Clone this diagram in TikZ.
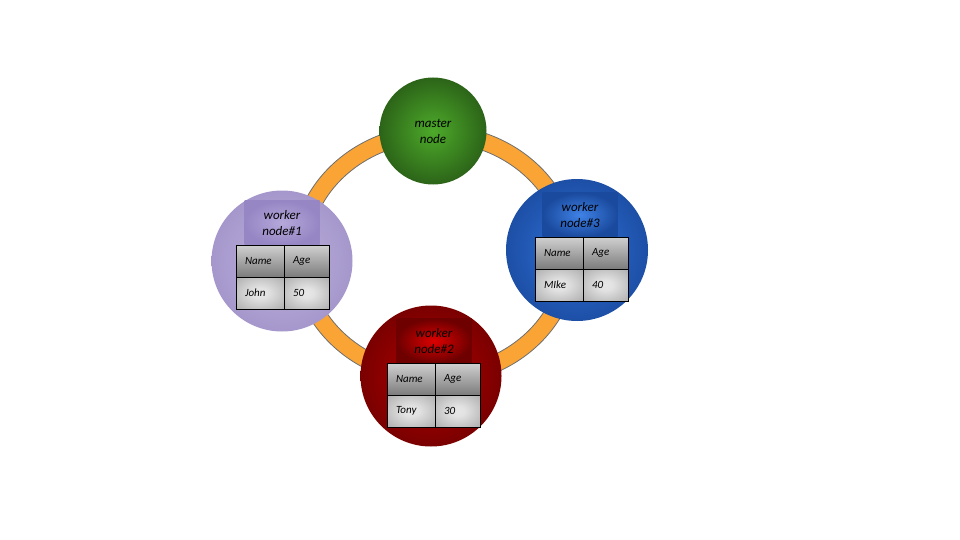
\documentclass[tikz,border=0pt]{standalone}
\usepackage{fontspec}
\setmainfont{Carlito}
\usepackage{xcolor}
\usetikzlibrary{positioning}

\definecolor{ringorange}{HTML}{F9A435}
\definecolor{ringedge}{HTML}{6E6E6E}
\definecolor{greenin}{HTML}{4DAA2A}
\definecolor{greenout}{HTML}{2C6418}
\definecolor{purpin}{HTML}{BDB2DD}
\definecolor{purpout}{HTML}{A597CB}
\definecolor{purpboxin}{HTML}{B5A8DA}
\definecolor{purpboxout}{HTML}{9686C4}
\definecolor{bluein}{HTML}{2F72D8}
\definecolor{blueout}{HTML}{1D4FA6}
\definecolor{blueboxin}{HTML}{3F82E6}
\definecolor{blueboxout}{HTML}{1A4A9E}
\definecolor{redin}{HTML}{B40000}
\definecolor{redout}{HTML}{7A0000}
\definecolor{redboxin}{HTML}{DD0000}
\definecolor{redboxout}{HTML}{6E0000}
\definecolor{cellhi}{HTML}{D0D0D0}
\definecolor{celllo}{HTML}{7C7C7C}
\definecolor{cellin}{HTML}{E6E6E6}
\definecolor{cellout}{HTML}{9A9A9A}

\pgfdeclareradialshading{cellglow}{\pgfpoint{0bp}{0bp}}{color(0bp)=(cellin); color(8bp)=(cellin!95!cellout); color(38bp)=(cellout!80!cellin); color(50bp)=(cellout)}

\begin{document}
\begin{tikzpicture}[x=1pt,y=-1pt,
  nodecircle/.style={circle, draw=none, inner sep=0pt, align=center,
    font=\itshape\fontsize{13}{16}\selectfont},
  titlebox/.style={rectangle, minimum width=75pt, minimum height=44pt,
    inner sep=0pt, align=center, font=\itshape\fontsize{13}{16}\selectfont},
  cell/.style={rectangle, draw=black, line width=0.8pt, outer sep=0pt,
    minimum height=32pt, inner xsep=9pt, inner ysep=0pt, align=left,
    font=\itshape\fontsize{11}{13}\selectfont},
  headcell/.style={cell, top color=cellhi, bottom color=celllo},
  datacell/.style={cell, shading=cellglow},
  firstcol/.style={text width=30pt},
  secondcol/.style={text width=27pt}]
\useasboundingbox (0,0) rectangle (960,540);

% ring
\draw[ringedge, line width=0.8pt, fill=ringorange, even odd rule]
  (435,255) ellipse [x radius=143, y radius=130]
  (435,255) ellipse [x radius=126, y radius=113];

% master
\node[nodecircle, minimum size=107pt, inner color=greenin, outer color=greenout] (master) at (433,131) {master\\node};

% worker 1
\node[nodecircle, minimum size=141pt, inner color=purpin, outer color=purpout] (worker1) at (282,261) {};
\node[titlebox, inner color=purpboxin, outer color=purpboxout, anchor=south] (w1title) at (282,245) {worker\\node\#1};
\node[headcell, firstcol, anchor=north west] (w1name) at (236,245) {Name};
\node[headcell, secondcol, right=0pt of w1name] (w1age) {Age};
\node[datacell, firstcol, below=0pt of w1name] (w1nameval) {John};
\node[datacell, secondcol, below=0pt of w1age] (w1ageval) {50};

% worker 3
\node[nodecircle, minimum size=142pt, inner color=bluein, outer color=blueout] (worker3) at (577,250) {};
\node[titlebox, inner color=blueboxin, outer color=blueboxout, anchor=south] (w3title) at (580,237) {worker\\node\#3};
\node[headcell, firstcol, anchor=north west] (w3name) at (535,237) {Name};
\node[headcell, secondcol, right=0pt of w3name] (w3age) {Age};
\node[datacell, firstcol, below=0pt of w3name] (w3nameval) {MIke};
\node[datacell, secondcol, below=0pt of w3age] (w3ageval) {40};

% worker 2
\node[nodecircle, minimum size=141pt, inner color=redin, outer color=redout] (worker2) at (431,376) {};
\node[titlebox, inner color=redboxin, outer color=redboxout, anchor=south] (w2title) at (434,363) {worker\\node\#2};
\node[headcell, firstcol, anchor=north west] (w2name) at (387,363) {Name};
\node[headcell, secondcol, right=0pt of w2name] (w2age) {Age};
\node[datacell, firstcol, below=0pt of w2name] (w2nameval) {Tony};
\node[datacell, secondcol, below=0pt of w2age] (w2ageval) {30};
\end{tikzpicture}
\end{document}
